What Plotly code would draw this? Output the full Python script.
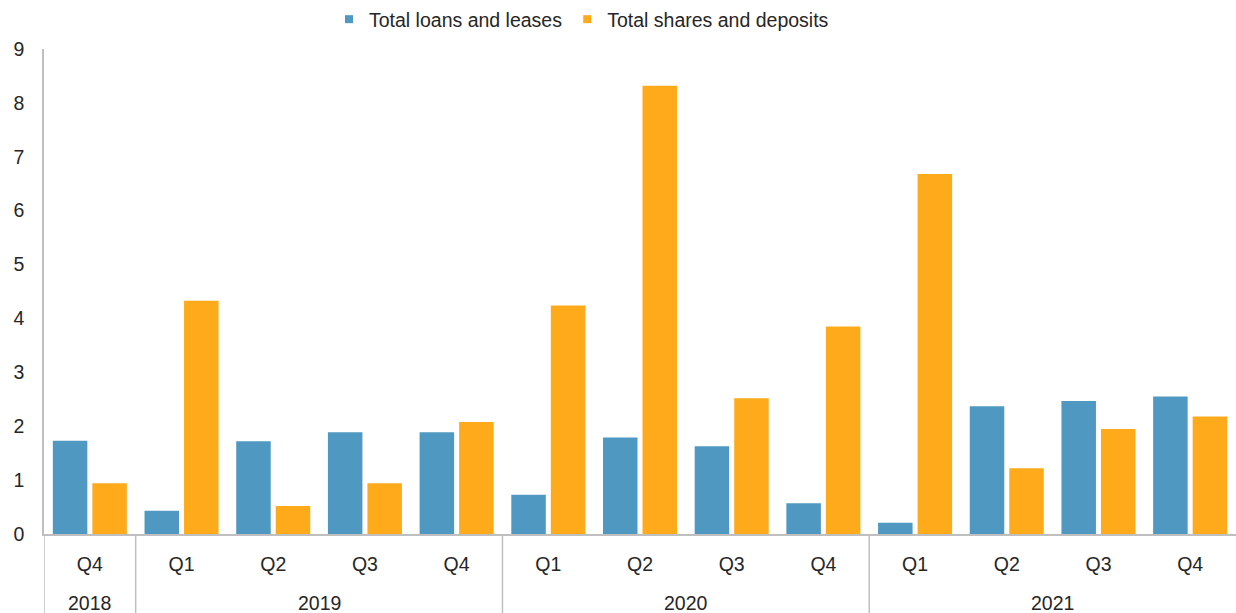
import plotly.graph_objects as go

years = ["2018", "2019", "2019", "2019", "2019", "2020", "2020", "2020", "2020",
         "2021", "2021", "2021", "2021"]
quarters = ["Q4", "Q1", "Q2", "Q3", "Q4", "Q1", "Q2", "Q3", "Q4",
            "Q1", "Q2", "Q3", "Q4"]
loans = [1.73, 0.43, 1.72, 1.89, 1.89, 0.73, 1.79, 1.63, 0.57, 0.21, 2.37, 2.47, 2.55]
deposits = [0.94, 4.33, 0.52, 0.94, 2.08, 4.24, 8.32, 2.52, 3.85, 6.68, 1.22, 1.95, 2.18]
series_names = ["Total loans and leases", "Total shares and deposits"]

BLUE = "#4F98C1"
ORANGE = "#FFAA1A"
GRID = "#BFBFBF"
TXT = "#262626"
FONT = "Liberation Sans, Arial, sans-serif"
FS = 19.5

idx = list(range(len(quarters)))

fig = go.Figure()
for name, vals, col in [(series_names[0], loans, BLUE), (series_names[1], deposits, ORANGE)]:
    fig.add_trace(go.Bar(x=idx, y=vals, name=name, marker_color=col,
                         marker_line_width=0, showlegend=False))
# legend proxies with small square markers
for name, col in [(series_names[0], BLUE), (series_names[1], ORANGE)]:
    fig.add_trace(go.Scatter(x=[None], y=[None], mode="markers",
                             name=name, marker=dict(symbol="square", size=8, color=col),
                             showlegend=True, hoverinfo="skip"))

# year groups: labels centred under each group, dividers at group boundaries
groups = []
for i, y in enumerate(years):
    if not groups or groups[-1][0] != y:
        groups.append([y, i, i])
    else:
        groups[-1][2] = i

bottom = -(613 - 534) / 485
for y, a, b in groups:
    fig.add_annotation(x=(a + b) / 2, y=-(603 - 534) / 485, xref="x", yref="paper",
                       text=y, showarrow=False, yanchor="middle",
                       font=dict(size=FS, family=FONT, color=TXT))
    fig.add_shape(type="line", xref="x", yref="paper", x0=a - 0.5, x1=a - 0.5,
                  y0=0, y1=bottom, line=dict(color=GRID, width=1.5))

fig.update_layout(
    width=1236, height=613,
    margin=dict(l=44, r=0, t=49, b=79, autoexpand=False),
    paper_bgcolor="white", plot_bgcolor="white",
    font=dict(family=FONT, size=FS, color=TXT),
    barmode="group", bargap=0.138, bargroupgap=0.127,
    legend=dict(orientation="h", x=(329 - 44) / 1192, xanchor="left",
                y=1 + 49 / 485, yanchor="top", font=dict(size=FS, family=FONT, color=TXT),
                itemwidth=30, bgcolor="rgba(0,0,0,0)"),
)
fig.update_xaxes(
    range=[-0.5, len(quarters) - 0.5], tickmode="array", tickvals=idx, ticktext=quarters,
    showline=True, linecolor=GRID, linewidth=1.5, showgrid=False, zeroline=False,
    ticks="", ticklabelstandoff=12,
    tickfont=dict(size=FS, family=FONT, color=TXT), automargin=False,
)
fig.update_yaxes(
    range=[0, 9], dtick=1, showline=True, linecolor=GRID, linewidth=1.5,
    showgrid=False, zeroline=False, ticks="", ticklabelstandoff=14,
    tickfont=dict(size=FS, family=FONT, color=TXT), automargin=False,
)

fig.write_html("out.html")
